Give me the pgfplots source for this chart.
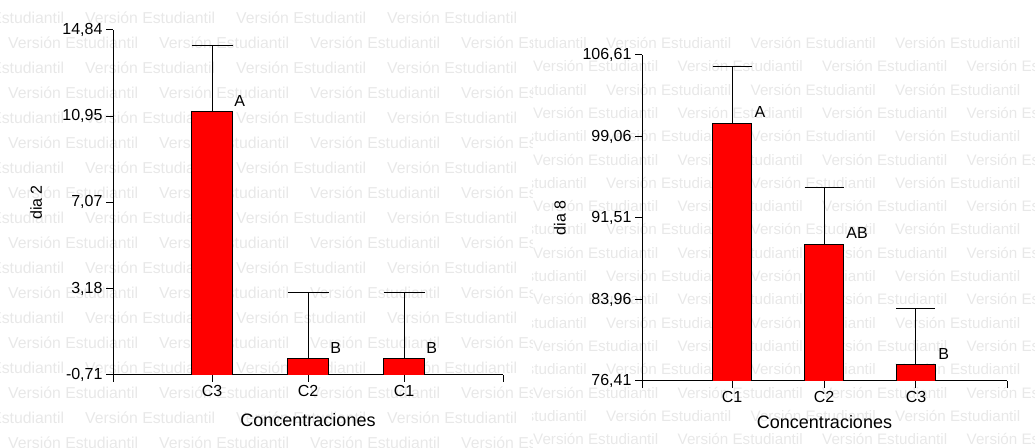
\documentclass[border=0pt]{standalone}
\usepackage{fontspec}
\setmainfont{Liberation Sans}
\usepackage{pgfplots}
\pgfplotsset{compat=1.18}
\usepackage{pgfplotstable}

\pgfplotstableread{
x y e lab
0 11.15 2.99 A
1 0.02 2.99 B
2 0.02 2.99 B
}\dataA
\pgfplotstableread{
x y e lab
0 100.28 5.22 A
1 89.08 5.22 AB
2 77.92 5.22 B
}\dataB

\pgfplotsset{
  mystyle/.style={
    scale only axis,
    axis lines*=left,
    axis line style={black, line width=1bp},
    tick align=outside,
    major tick length=7bp,
    tick style={black, line width=1bp},
    tick label style={font=\fontsize{16bp}{19bp}\selectfont},
    xlabel style={font=\fontsize{18bp}{21bp}\selectfont, anchor=center},
    ylabel style={font=\fontsize{16bp}{19bp}\selectfont, anchor=center},
    ybar,
  },
  letters/.style={
    nodes near coords, point meta=explicit symbolic,
    every node near coord/.append style={anchor=south west, xshift=22bp, yshift=5bp, inner sep=0pt, text=black, font=\fontsize{16bp}{19bp}\selectfont},
  },
}
\tikzset{wm/.style={inner sep=0pt, anchor=west, text=black!9}}

\begin{document}
\begin{tikzpicture}
\useasboundingbox (0,0) rectangle (1035bp,448bp);
% watermark, left panel
\begin{scope}[x=1bp,y=1bp]
\clip (0,0) rectangle (532,448);
\foreach \k in {0,...,17}{
  \pgfmathsetmacro{\yy}{448-18-25*\k}
  \pgfmathsetmacro{\xo}{mod(\k,2)==1 ? 8 : -66}
  \foreach \j in {0,...,4}{
    \node[wm, font=\fontsize{15.8bp}{18bp}\selectfont] at ({\xo+151*\j},\yy) {Versión Estudiantil};
  }
}
\end{scope}
% watermark, right panel
\begin{scope}[x=1bp,y=1bp]
\clip (532,0) rectangle (1035,417);
\foreach \k in {0,...,17}{
  \pgfmathsetmacro{\yy}{448-43-23.3*\k}
  \pgfmathsetmacro{\xo}{mod(\k,2)==1 ? 533 : 461.5}
  \foreach \j in {0,...,4}{
    \node[wm, font=\fontsize{15.2bp}{18bp}\selectfont] at ({\xo+144.5*\j},\yy) {Versión Estudiantil};
  }
}
\end{scope}

\begin{axis}[mystyle,
  at={(113bp,73bp)}, anchor=south west, width=390bp, height=345bp,
  bar width=41bp,
  xmin=-1.03125, xmax=3.03125, ymin=0, ymax=15.55,
  xtick={-1.03125,0,1,2,3.03125}, xticklabels={,C3,C2,C1,},
  ytick={0,3.89,7.78,11.66,15.55},
  yticklabels={{-0,71},{3,18},{7,07},{10,95},{14,84}},
  y filter/.expression={y+0.71},
  xlabel={Concentraciones}, ylabel={dia 2},
  xlabel style={at={(axis description cs:0.5,-0.1304)}},
  ylabel style={at={(axis description cs:-0.197,0.5)}},
]
\addplot[fill=red, draw=black, line width=0.9bp, letters,
  error bars/.cd, y dir=plus, y explicit,
  error bar style={line width=1bp, black},
  error mark options={rotate=90, line width=1bp, mark size=20.5bp, black},
] table[x=x, y=y, y error=e, meta=lab] {\dataA};
\end{axis}

\begin{axis}[mystyle,
  at={(642bp,67bp)}, anchor=south west, width=365bp, height=326bp,
  bar width=39bp,
  xmin=-0.98, xmax=2.99, ymin=0, ymax=30.2,
  xtick={-0.98,0,1,2,2.99}, xticklabels={,C1,C2,C3,},
  ytick={0,7.55,15.1,22.65,30.2},
  yticklabels={{76,41},{83,96},{91,51},{99,06},{106,61}},
  y filter/.expression={y-76.41},
  xlabel={Concentraciones}, ylabel={dia 8},
  xlabel style={at={(axis description cs:0.5,-0.125)}},
  ylabel style={at={(axis description cs:-0.2247,0.5)}},
]
\addplot[fill=red, draw=black, line width=0.9bp, letters,
  error bars/.cd, y dir=plus, y explicit,
  error bar style={line width=1bp, black},
  error mark options={rotate=90, line width=1bp, mark size=19.5bp, black},
] table[x=x, y=y, y error=e, meta=lab] {\dataB};
\end{axis}
\end{tikzpicture}
\end{document}
